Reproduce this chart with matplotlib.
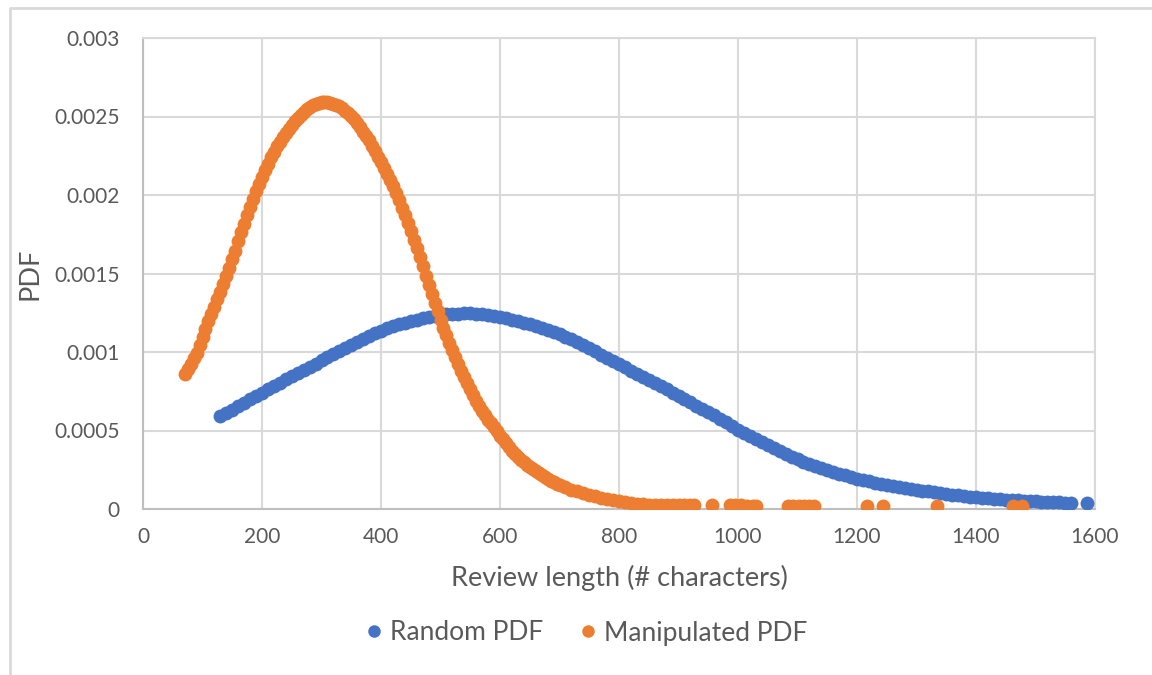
import matplotlib.pyplot as plt
from matplotlib.lines import Line2D

plt.rcParams['font.family'] = ['Lato', 'DejaVu Sans']

# review length (# characters) and PDF values (PDF in units of 1e-6)
random_len = [130, 140, 150, 160, 170, 180, 190, 200, 210, 220, 230, 240, 250, 260, 270, 280, 290, 300,
              310, 320, 330, 340, 350, 360, 370, 380, 390, 400, 410, 420, 430, 440, 450, 460, 470, 480,
              490, 500, 510, 520, 530, 540, 550, 560, 570, 580, 590, 600, 610, 620, 630, 640, 650, 660,
              670, 680, 690, 700, 710, 720, 730, 740, 750, 760, 770, 780, 790, 800, 810, 820, 830, 840,
              850, 860, 870, 880, 890, 900, 910, 920, 930, 940, 950, 960, 970, 980, 990, 1000, 1010, 1020,
              1030, 1040, 1050, 1060, 1070, 1080, 1090, 1100, 1110, 1120, 1130, 1140, 1150, 1160, 1170,
              1180, 1190, 1200, 1210, 1220, 1230, 1240, 1250, 1260, 1270, 1280, 1290, 1300, 1310, 1320,
              1330, 1340, 1350, 1360, 1370, 1380, 1390, 1400, 1410, 1420, 1430, 1440, 1450, 1460, 1470,
              1480, 1490, 1500, 1510, 1520, 1530, 1540, 1550, 1560, 1586]
random_pdf = [590, 611, 632, 654, 676, 698, 720, 742, 763, 784, 805, 825, 846, 866, 886, 906, 926, 947,
              967, 987, 1006, 1025, 1044, 1063, 1082, 1100, 1118, 1136, 1150, 1164, 1176, 1187, 1197, 1206, 1214, 1221,
              1228, 1234, 1239, 1243, 1245, 1246, 1246, 1245, 1242, 1237, 1230, 1222, 1214, 1205, 1195, 1184, 1176, 1168,
              1156, 1143, 1129, 1114, 1098, 1081, 1063, 1044, 1024, 1004, 984, 964, 944, 924, 903, 882, 862, 842,
              823, 803, 783, 762, 741, 721, 700, 679, 658, 637, 616, 596, 575, 553, 530, 505, 483, 462,
              443, 424, 405, 387, 369, 351, 334, 318, 302, 287, 273, 260, 248, 236, 225,
              214, 204, 194, 185, 176, 167, 159, 152, 145, 139, 133, 127, 122, 117, 112,
              107, 102, 97, 92, 87, 83, 79, 75, 72, 68, 65, 62, 59, 57, 55,
              53, 51, 49, 47, 45, 43, 42, 41, 40, 40]

manip_len = [70, 75, 80, 85, 90, 95, 100, 105, 110, 115, 120, 125, 130, 135, 140, 145, 150, 155, 160, 165,
             170, 175, 180, 185, 190, 195, 200, 205, 210, 215, 220, 225, 230, 235, 240, 245, 250, 255, 260,
             265, 270, 275, 280, 285, 290, 295, 300, 305, 310, 315, 320, 325, 330, 335, 340, 345, 350, 355,
             360, 365, 370, 375, 380, 385, 390, 395, 400, 405, 410, 415, 420, 425, 430, 435, 440, 445, 450,
             455, 460, 465, 470, 475, 480, 485, 490, 495, 500, 505, 510, 515, 520, 525, 530, 535, 540, 545,
             550, 555, 560, 565, 570, 575, 580, 585, 590, 595, 600, 605, 610, 615, 620, 625, 630, 635, 640,
             645, 650, 655, 660, 665, 670, 675, 680, 685, 690, 695, 700, 710, 720, 730, 740, 750, 760, 770,
             780, 790, 800, 810, 820, 830, 840, 850, 860, 870, 880, 890, 900, 910, 920, 926, 956, 986, 995,
             1005, 1015, 1025, 1031, 1084, 1093, 1102, 1111, 1120, 1127, 1216, 1244, 1334, 1463, 1477]
manip_pdf = [860, 890, 925, 960, 995, 1045, 1095, 1145, 1195, 1240, 1285, 1335, 1385, 1435, 1485, 1535, 1590, 1645, 1710, 1764,
             1818, 1870, 1922, 1975, 2025, 2070, 2115, 2160, 2200, 2240, 2275, 2310, 2340, 2370, 2398, 2423, 2447, 2470, 2490,
             2510, 2530, 2545, 2560, 2572, 2582, 2588, 2592, 2594, 2592, 2588, 2582, 2574, 2564, 2552, 2538, 2522, 2504, 2482,
             2458, 2432, 2404, 2378, 2350, 2315, 2280, 2245, 2210, 2172, 2135, 2097, 2055, 2010, 1965, 1918, 1870, 1822, 1770,
             1715, 1660, 1605, 1545, 1485, 1428, 1370, 1314, 1258, 1206, 1155, 1107, 1060, 1015, 970, 925, 882, 840, 805,
             765, 726, 690, 655, 625, 597, 570, 545, 520, 494, 468, 443, 418, 395, 372, 352, 333, 315, 298,
             282, 267, 253, 240, 228, 216, 205, 192, 181, 170, 160, 150, 137, 124, 112, 100, 90, 80, 72,
             64, 57, 50, 45, 40, 35, 31, 28, 27, 26, 26, 25, 25, 25, 24, 24, 24, 23, 23,
             23, 22, 22, 22, 22, 21, 21, 21, 21, 21, 20, 20, 20, 20, 20]

x_ticks = [0, 200, 400, 600, 800, 1000, 1200, 1400, 1600]
y_ticks = [0, 0.0005, 0.001, 0.0015, 0.002, 0.0025, 0.003]
y_tick_labels = ['0', '0.0005', '0.001', '0.0015', '0.002', '0.0025', '0.003']

blue = '#4472C4'
orange = '#ED7D31'
text_col = '#595959'
grid_col = '#D9D9D9'

fig = plt.figure(figsize=(11.52, 6.75), dpi=100)
ax = fig.add_axes([143 / 1152, 1 - 509 / 675, 952 / 1152, 471 / 675])

ax.plot(random_len, [v * 1e-6 for v in random_pdf], 'o', color=blue, markersize=10,
        markeredgewidth=0, label='Random PDF', zorder=3)
ax.plot(manip_len, [v * 1e-6 for v in manip_pdf], 'o', color=orange, markersize=10,
        markeredgewidth=0, label='Manipulated PDF', zorder=4)

ax.set_xlim(0, 1600)
ax.set_ylim(0, 0.003)
ax.set_xticks(x_ticks)
ax.set_yticks(y_ticks)
ax.set_yticklabels(y_tick_labels)
ax.grid(True, color=grid_col, linewidth=1.5)
ax.set_axisbelow(True)
ax.tick_params(length=0, labelsize=15, labelcolor=text_col)
ax.tick_params(axis='x', pad=13)
ax.tick_params(axis='y', pad=17)
for side in ['top', 'right']:
    ax.spines[side].set_color(grid_col)
    ax.spines[side].set_linewidth(1.5)
for side in ['left', 'bottom']:
    ax.spines[side].set_color('#BFBFBF')
    ax.spines[side].set_linewidth(1.5)

ax.set_xlabel('Review length (# characters)', fontsize=19.5, color=text_col, labelpad=13)
ax.set_ylabel('PDF', fontsize=19.5, color=text_col, labelpad=8)

fig.legend(loc='center', bbox_to_anchor=(584 / 1152, 1 - 633 / 675), ncol=2, frameon=False,
           fontsize=19, labelcolor=text_col, handletextpad=0.1, columnspacing=1.2,
           markerscale=0.9, handlelength=1.0)

# chart area border (only top and left edges visible in the crop)
fig.add_artist(Line2D([10 / 1152, 10 / 1152, 1], [0, 1 - 7.5 / 675, 1 - 7.5 / 675],
                      transform=fig.transFigure, color=grid_col, linewidth=2))

fig.savefig('out.png', dpi=100)
